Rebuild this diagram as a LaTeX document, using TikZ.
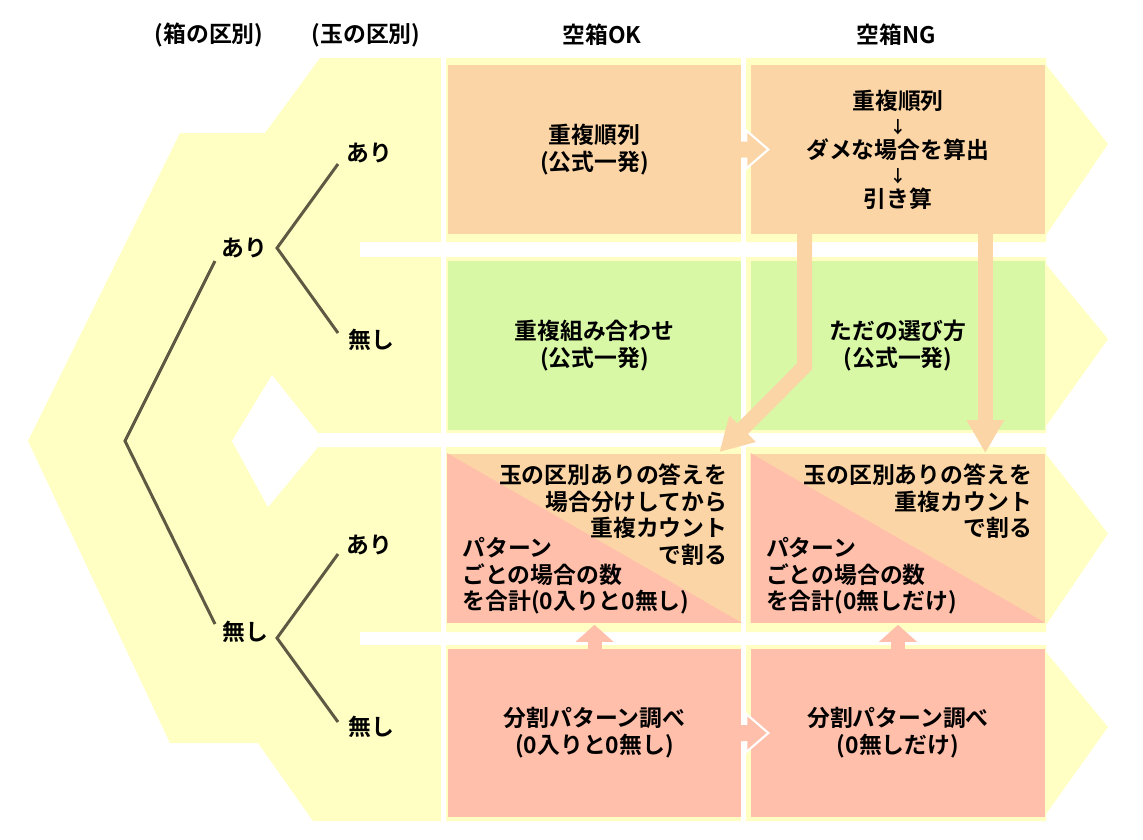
\documentclass[tikz,border=0pt]{standalone}
\usepackage{fontspec}
\setmainfont{Noto Sans CJK JP}[BoldFont={* Bold}]
\usetikzlibrary{arrows.meta,positioning}
\definecolor{lemon}{RGB}{255,255,196}
\definecolor{peach}{RGB}{252,213,166}
\definecolor{lime}{RGB}{216,248,166}
\definecolor{salmon}{RGB}{255,191,170}
\definecolor{twig}{RGB}{94,89,66}
\tikzstyle{cell} = [minimum width=5.88cm, minimum height=3.38cm, inner sep=0pt, align=center]
\tikzstyle{tag} = [inner sep=0pt]
\tikzstyle{branch} = [twig, line width=1.7pt]
\tikzstyle{fat} = [peach, line width=0.3cm, -{Triangle[width=0.7cm,length=0.66cm]}]
\tikzstyle{lift} = [salmon, line width=0.28cm, -{Triangle[width=0.74cm,length=0.34cm]}]
\newcommand{\dn}{{\fontsize{9.5}{10}\selectfont ↓}}

\begin{document}
\begin{tikzpicture}[x=0.02cm, y=-0.02cm, font=\fontsize{13}{15.3}\selectfont\bfseries]
	\useasboundingbox (0,0) rectangle (1143,839);
	% yellow background
	\fill[lemon] (28,441) -- (180,133) -- (265,133) -- (320,58) -- (441,58) -- (441,821) -- (313,821) -- (258,743) -- (170,743) -- cycle;
	\foreach \t/\b in {58/242, 257/433, 447/632, 645/821}
		\fill[lemon] (446,\t) -- (1046,\t) -- (1046,{\t+7}) -- (1108,{(\t+\b)/2-6}) -- (1046,{\b-7}) -- (1046,\b) -- (446,\b) -- cycle;
	\fill[white] (360,242) rectangle (441,257);
	\fill[white] (360,632) rectangle (441,645);
	\fill[white] (232,441) -- (272,375) -- (318,433) -- (441,433) -- (441,447) -- (318,447) -- (268,507) -- cycle;
	\draw[white, line width=0.1cm] (743.5,58) -- (743.5,821);

	\node (hdBox) at (209,35) {(箱の区別)};
	\node (hdBall) at (366,35) {(玉の区別)};
	\node (hdOK) at (602,35) {空箱OK};
	\node (hdNG) at (896,35) {空箱NG};

	% tree
	\coordinate (root) at (125,441);
	\coordinate (hasIn) at (215,261);
	\coordinate (hasOut) at (277,248);
	\coordinate (noIn) at (215,624);
	\coordinate (noOut) at (277,638);
	\coordinate (endA) at (338,164);
	\coordinate (endB) at (338,333);
	\coordinate (endC) at (338,554);
	\coordinate (endD) at (338,722);
	\draw[branch] (hasIn) -- (root) -- (noIn);
	\draw[branch] (endA) -- (hasOut) -- (endB);
	\draw[branch] (endC) -- (noOut) -- (endD);
	\node[tag] (hasBox) at (244,248) {あり};
	\node[tag] (noBox) at (245,632) {無し};
	\node[tag] (ballA) at (369,153) {あり};
	\node[tag] (ballB) at (371,340) {無し};
	\node[tag] (ballC) at (369,545) {あり};
	\node[tag] (ballD) at (371,727) {無し};

	% boxes
	\node[cell, fill=peach] (okA) at (594.5,149.5) {重複順列\\(公式一発)};
	\node[cell, fill=peach] (ngA) at (898,149.5) {重複順列\\[-1.4pt]\dn\\[-1.4pt]ダメな場合を算出\\[-1.4pt]\dn\\[-1.4pt]引き算};
	\node[cell, fill=lime] (okB) at (594.5,345.5) {重複組み合わせ\\(公式一発)};
	\node[cell, fill=lime] (ngB) at (898,345.5) {ただの選び方\\(公式一発)};
	\node[cell, fill=peach] (okC) at (594.5,538) {};
	\node[cell, fill=peach] (ngC) at (898,538) {};
	\node[cell, fill=salmon] (okD) at (594.5,733) {分割パターン調べ\\(0入りと0無し)};
	\node[cell, fill=salmon] (ngD) at (898,733) {分割パターン調べ\\(0無しだけ)};
	\foreach \c in {okC,ngC}
		\fill[salmon] (\c.north west) -- (\c.south east) -- (\c.south west) -- cycle;
	\node[tag, anchor=north east, align=right] (okCup) at ([xshift=-0.28cm,yshift=-0.2cm]okC.north east) {玉の区別ありの答えを\\場合分けしてから\\重複カウント\\で割る};
	\node[tag, anchor=south west, align=left] (okClow) at ([xshift=0.3cm,yshift=0.16cm]okC.south west) {パターン\\ごとの場合の数\\を合計(0入りと0無し)};
	\node[tag, anchor=north east, align=right] (ngCup) at ([xshift=-0.26cm,yshift=-0.2cm]ngC.north east) {玉の区別ありの答えを\\重複カウント\\で割る};
	\node[tag, anchor=south west, align=left] (ngClow) at ([xshift=0.3cm,yshift=0.16cm]ngC.south west) {パターン\\ごとの場合の数\\を合計(0無しだけ)};

	% arrows
	\foreach \r/\c in {okA/peach, okD/salmon} {
		\begin{scope}[shift={(\r.east)}]
			\fill[\c] (-1,-8) -- (4.5,-8) -- (4.5,-19) -- (26.5,0) -- (4.5,19) -- (4.5,8) -- (-1,8) -- cycle;
			\draw[white, line width=1.2pt] (4.5,-8) -- (4.5,-19) -- (26.5,0) -- (4.5,19) -- (4.5,8);
		\end{scope}
	}
	\draw[fat] ([xshift=1.08cm,yshift=0.04cm]ngA.south west) -- ++(0,134) -- ([xshift=-0.45cm,yshift=0.02cm]okC.north east);
	\draw[fat] ([xshift=-1.2cm,yshift=0.04cm]ngA.south east) -- ([xshift=-1.2cm]ngC.north east);
	\draw[lift] ([yshift=-0.04cm]okD.north) -- ([yshift=-0.04cm]okC.south);
	\draw[lift] ([yshift=-0.04cm]ngD.north) -- ([yshift=-0.04cm]ngC.south);
\end{tikzpicture}
\end{document}
